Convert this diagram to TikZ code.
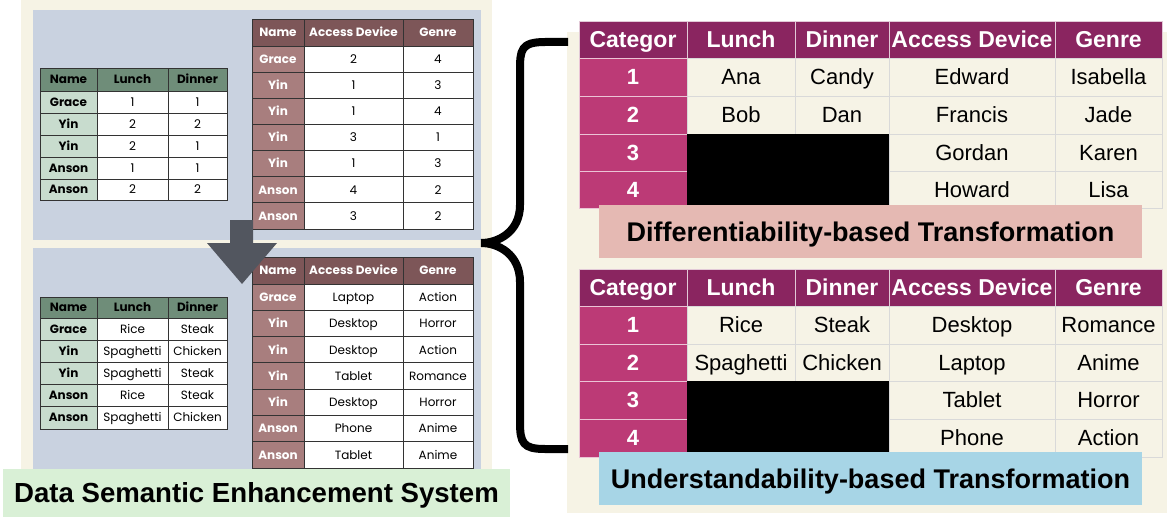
\documentclass[tikz,border=0pt]{standalone}
\usepackage{fontspec}
\setmainfont{Liberation Sans}
\newfontfamily\pop{Poppins}
\definecolor{creamL}{HTML}{F6F3E5}
\definecolor{bluep}{HTML}{C9D2E0}
\definecolor{ghdr}{HTML}{6F8D79}
\definecolor{gname}{HTML}{C8DCCE}
\definecolor{bhdr}{HTML}{7D5658}
\definecolor{bname}{HTML}{A87E7E}
\definecolor{mhdr}{HTML}{8A2560}
\definecolor{mcat}{HTML}{BC3A76}
\definecolor{creamR}{HTML}{F6F3E6}
\definecolor{pinkl}{HTML}{E5B9B3}
\definecolor{bluel}{HTML}{A7D5E6}
\definecolor{greenl}{HTML}{D9F0D6}
\definecolor{arrowc}{HTML}{52565F}
\definecolor{lline}{HTML}{333333}
\tikzset{
  cell/.style={inner sep=0pt, outer sep=0pt, anchor=center},
  lfont/.style={font=\pop\fontsize{12}{14}\selectfont, text height=8.5pt, text depth=0pt},
  lfontb/.style={font=\pop\bfseries\fontsize{12}{14}\selectfont, text height=8.5pt, text depth=0pt},
  ghd/.style={cell, lfontb, fill=ghdr, draw=lline, line width=0.9pt},
  gnm/.style={cell, lfontb, fill=gname, draw=lline, line width=0.9pt},
  gdt/.style={cell, lfont, fill=white, draw=lline, line width=0.9pt},
  bhd/.style={cell, lfontb, text=white, fill=bhdr, draw=lline, line width=0.9pt},
  bnm/.style={cell, lfontb, text=white, fill=bname, draw=lline, line width=0.9pt},
  bdt/.style={cell, lfont, fill=white, draw=lline, line width=0.9pt},
  rhd/.style={cell, font=\bfseries\fontsize{23}{26}\selectfont, text height=16.5pt, text depth=0pt, text=white, fill=mhdr, draw=white!75!mhdr, line width=0.9pt},
  rct/.style={cell, font=\bfseries\fontsize{22}{25}\selectfont, text height=15.8pt, text depth=0pt, text=white, fill=mcat, draw=white!70!mcat, line width=0.9pt},
  rdt/.style={cell, font=\fontsize{22}{25}\selectfont, text height=15.8pt, text depth=0pt, fill=creamR, draw=black!15, line width=0.9pt},
  lbl/.style={inner sep=0pt, outer sep=0pt, font=\bfseries\fontsize{27}{30}\selectfont, text height=19.5pt, text depth=0pt},
}
\newcommand\trow[7]{%
  \foreach \tx [count=\ci from 0] in {#7} {%
    \pgfmathsetmacro\xl{{#2}[\ci]}%
    \pgfmathsetmacro\xr{{#2}[\ci+1]}%
    \ifnum\ci=0 \tikzset{curst/.style={#5}}\else\tikzset{curst/.style={#6}}\fi
    \node[curst, minimum width={(\xr-\xl)*1pt}, minimum height={(#4-#3)*1pt}] (#1-\ci) at ({(\xl+\xr)/2},{(#3+#4)/2}) {\tx};
  }%
}
\begin{document}
\begin{tikzpicture}[x=1pt,y=-1pt]
\useasboundingbox (0,0) rectangle (1167,519);
% left panel
\fill[creamL] (21,0) rectangle (492,470);
\fill[bluep] (33,10) rectangle (481,240);
\fill[bluep] (33,248) rectangle (481,470);
% top-left green table
\def\gc{40,97,168,227}
\trow{ga0}{\gc}{68}{91}{ghd}{ghd}{Name,Lunch,Dinner}
\trow{ga1}{\gc}{91}{113}{gnm}{gdt}{Grace,1,1}
\trow{ga2}{\gc}{113}{135}{gnm}{gdt}{Yin,2,2}
\trow{ga3}{\gc}{135}{157}{gnm}{gdt}{Yin,2,1}
\trow{ga4}{\gc}{157}{179}{gnm}{gdt}{Anson,1,1}
\trow{ga5}{\gc}{179}{200}{gnm}{gdt}{Anson,2,2}
% top brown table
\def\bc{252,304,403,473}
\trow{ba0}{\bc}{19}{46}{bhd}{bhd}{Name,Access Device,Genre}
\trow{ba1}{\bc}{46}{72.1}{bnm}{bdt}{Grace,2,4}
\trow{ba2}{\bc}{72.1}{98.3}{bnm}{bdt}{Yin,1,3}
\trow{ba3}{\bc}{98.3}{124.4}{bnm}{bdt}{Yin,1,4}
\trow{ba4}{\bc}{124.4}{150.6}{bnm}{bdt}{Yin,3,1}
\trow{ba5}{\bc}{150.6}{176.7}{bnm}{bdt}{Yin,1,3}
\trow{ba6}{\bc}{176.7}{202.9}{bnm}{bdt}{Anson,4,2}
\trow{ba7}{\bc}{202.9}{229}{bnm}{bdt}{Anson,3,2}
% bottom green table
\trow{gb0}{\gc}{297}{318}{ghd}{ghd}{Name,Lunch,Dinner}
\trow{gb1}{\gc}{318}{340}{gnm}{gdt}{Grace,Rice,Steak}
\trow{gb2}{\gc}{340}{362}{gnm}{gdt}{Yin,Spaghetti,Chicken}
\trow{gb3}{\gc}{362}{384}{gnm}{gdt}{Yin,Spaghetti,Steak}
\trow{gb4}{\gc}{384}{406}{gnm}{gdt}{Anson,Rice,Steak}
\trow{gb5}{\gc}{406}{429}{gnm}{gdt}{Anson,Spaghetti,Chicken}
% bottom brown table
\trow{bb0}{\bc}{257}{284}{bhd}{bhd}{Name,Access Device,Genre}
\trow{bb1}{\bc}{284}{310.3}{bnm}{bdt}{Grace,Laptop,Action}
\trow{bb2}{\bc}{310.3}{336.6}{bnm}{bdt}{Yin,Desktop,Horror}
\trow{bb3}{\bc}{336.6}{362.9}{bnm}{bdt}{Yin,Desktop,Action}
\trow{bb4}{\bc}{362.9}{389.1}{bnm}{bdt}{Yin,Tablet,Romance}
\trow{bb5}{\bc}{389.1}{415.4}{bnm}{bdt}{Yin,Desktop,Horror}
\trow{bb6}{\bc}{415.4}{441.7}{bnm}{bdt}{Anson,Phone,Anime}
\trow{bb7}{\bc}{441.7}{468}{bnm}{bdt}{Anson,Tablet,Anime}
% down arrow
\fill[arrowc] (230,220) -- (253,220) -- (253,243) -- (277,243) -- (242,284) -- (207,243) -- (230,243) -- cycle;
% green label
\node[lbl, font=\bfseries\fontsize{27.6}{30}\selectfont, text height=19.8pt, fill=greenl, minimum width=507pt, minimum height=48pt, anchor=north west] (dses) at (3,469) {Data Semantic Enhancement System};
% right panel
\fill[creamL] (567,32) rectangle (1167,513);
\def\rc{579,687,795,889,1055,1162}
\trow{ra0}{\rc}{21}{58}{rhd}{rhd}{Categor,Lunch,Dinner,Access Device,Genre}
\trow{ra1}{\rc}{58}{96}{rct}{rdt}{1,Ana,Candy,Edward,Isabella}
\trow{ra2}{\rc}{96}{134}{rct}{rdt}{2,Bob,Dan,Francis,Jade}
\trow{ra3}{\rc}{134}{171}{rct}{rdt}{3,{},{},Gordan,Karen}
\trow{ra4}{\rc}{171}{208}{rct}{rdt}{4,{},{},Howard,Lisa}
\fill[black] (687,134) rectangle (889,208);
\trow{rb0}{\rc}{269}{306}{rhd}{rhd}{Categor,Lunch,Dinner,Access Device,Genre}
\trow{rb1}{\rc}{306}{344}{rct}{rdt}{1,Rice,Steak,Desktop,Romance}
\trow{rb2}{\rc}{344}{381}{rct}{rdt}{2,Spaghetti,Chicken,Laptop,Anime}
\trow{rb3}{\rc}{381}{419}{rct}{rdt}{3,{},{},Tablet,Horror}
\trow{rb4}{\rc}{419}{457}{rct}{rdt}{4,{},{},Phone,Action}
\fill[black] (687,381) rectangle (889,457);
\node[lbl, fill=pinkl, minimum width=543pt, minimum height=53pt] (difl) at (870.5,231.5) {Differentiability-based Transformation};
\node[lbl, fill=bluel, minimum width=543pt, minimum height=53pt] (undl) at (870.5,478.5) {Understandability-based Transformation};
% brace
\draw[line width=8pt] (568,42) -- (545,42) .. controls (521,42) and (520,50) .. (520,70) -- (520,205) .. controls (520,232) and (498,243) .. (481,243) .. controls (498,243) and (520,254) .. (520,282) -- (520,422) .. controls (520,443) and (523,449) .. (545,449) -- (568,449);
\end{tikzpicture}
\end{document}
